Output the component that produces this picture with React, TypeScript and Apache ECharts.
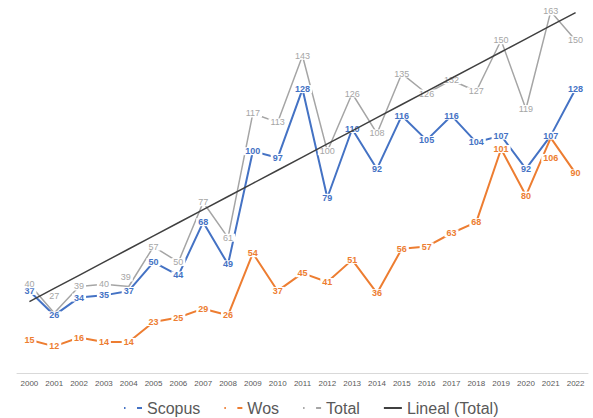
import React, { useEffect, useRef } from "react";
import * as echarts from "echarts";

const years = [
  "2000", "2001", "2002", "2003", "2004", "2005", "2006", "2007", "2008", "2009", "2010", "2011",
  "2012", "2013", "2014", "2015", "2016", "2017", "2018", "2019", "2020", "2021", "2022",
];
const scopus = [37, 26, 34, 35, 37, 50, 44, 68, 49, 100, 97, 128, 79, 110, 92, 116, 105, 116, 104, 107, 92, 107, 128];
const wos = [15, 12, 16, 14, 14, 23, 25, 29, 26, 54, 37, 45, 41, 51, 36, 56, 57, 63, 68, 101, 80, 106, 90];
const total = [40, 27, 39, 40, 39, 57, 50, 77, 61, 117, 113, 143, 100, 126, 108, 135, 126, 132, 127, 150, 119, 163, 150];
const legendNames = ["Scopus", "Wos", "Total", "Lineal (Total)"];

// Linear least-squares fit of Total (Excel "Lineal" trendline)
function linearFit(ys: number[]): number[] {
  const n = ys.length;
  const mx = (n - 1) / 2;
  const my = ys.reduce((s, v) => s + v, 0) / n;
  let sxy = 0;
  let sxx = 0;
  ys.forEach((y, i) => {
    sxy += (i - mx) * (y - my);
    sxx += (i - mx) * (i - mx);
  });
  const b = sxy / sxx;
  const a = my - b * mx;
  return ys.map((_, i) => +(a + b * i).toFixed(2));
}

const FONT = "'Liberation Sans', Arial, sans-serif";
const BLUE = "#4472C4";
const ORANGE = "#ED7D31";
const GRAY = "#A5A5A5";
const DARK = "#404040";
const DASH_ICON = "path://M0,0h1.5v2h-1.5zM13,0h5v2h-5z";
const LINE_ICON = "path://M0,0h18v2h-18z";

// manually moved data labels (as in the original chart), keyed by point index
const totalLabelShift: Record<number, number[]> = { 1: [0, -17], 4: [-3, -9] };
const wosLabelShift: Record<number, number[]> = { 21: [0, 20] };

function withShifts(values: number[], shifts: Record<number, number[]>) {
  return values.map((v, i) => (shifts[i] ? { value: v, label: { offset: shifts[i] } } : v));
}

export default function App() {
  const ref = useRef<HTMLDivElement>(null);
  useEffect(() => {
    if (!ref.current) return;
    const chart = echarts.init(ref.current, undefined, { renderer: "svg" });
    const trend = linearFit(total);
    const lbl = (color: string, bold: boolean) => ({
      show: true,
      position: "inside",
      fontSize: 9,
      lineHeight: 8,
      fontFamily: FONT,
      fontWeight: bold ? "bold" : "normal",
      color,
      backgroundColor: "#ffffff",
      padding: [0, 2],
    });
    chart.setOption({
      animation: false,
      backgroundColor: "#ffffff",
      grid: { left: 17, right: 5, top: 7, bottom: 45 },
      legend: {
        left: 124,
        top: 399,
        padding: 0,
        itemWidth: 18,
        itemHeight: 2,
        itemGap: 24,
        textStyle: { fontSize: 16, color: "#595959", fontFamily: FONT, lineHeight: 18 },
        data: [
          { name: legendNames[0], icon: DASH_ICON, itemStyle: { color: BLUE } },
          { name: legendNames[1], icon: DASH_ICON, itemStyle: { color: ORANGE } },
          { name: legendNames[2], icon: DASH_ICON, itemStyle: { color: GRAY } },
          { name: legendNames[3], icon: LINE_ICON, itemStyle: { color: DARK } },
        ],
      },
      xAxis: {
        type: "category",
        data: years,
        boundaryGap: true,
        axisLine: { lineStyle: { color: "#D9D9D9", width: 1 } },
        axisTick: { show: false },
        axisLabel: { interval: 0, fontSize: 8, color: "#595959", fontFamily: FONT, margin: 6 },
      },
      yAxis: { type: "value", min: 0, max: 165, show: false, splitLine: { show: false } },
      series: [
        {
          name: legendNames[0],
          type: "line",
          data: scopus,
          z: 2,
          symbol: "circle",
          symbolSize: 1,
          itemStyle: { color: BLUE },
          lineStyle: { color: BLUE, width: 2 },
          label: lbl(BLUE, true),
        },
        {
          name: legendNames[1],
          type: "line",
          data: withShifts(wos, wosLabelShift),
          z: 2,
          symbol: "circle",
          symbolSize: 1,
          itemStyle: { color: ORANGE },
          lineStyle: { color: ORANGE, width: 2 },
          label: lbl(ORANGE, true),
        },
        {
          name: legendNames[2],
          type: "line",
          data: withShifts(total, totalLabelShift),
          z: 2,
          symbol: "circle",
          symbolSize: 1,
          itemStyle: { color: GRAY },
          lineStyle: { color: GRAY, width: 1.5 },
          label: lbl(GRAY, false),
        },
        {
          name: legendNames[3],
          type: "line",
          data: trend,
          z: 10,
          symbol: "none",
          showSymbol: false,
          itemStyle: { color: DARK },
          lineStyle: { color: DARK, width: 1.5 },
          label: { show: false },
        },
      ],
    });
    return () => chart.dispose();
  }, []);
  return (
    <div
      ref={ref}
      style={{ position: "absolute", left: 0, top: 0, width: 593, height: 418, background: "#fff" }}
    />
  );
}
